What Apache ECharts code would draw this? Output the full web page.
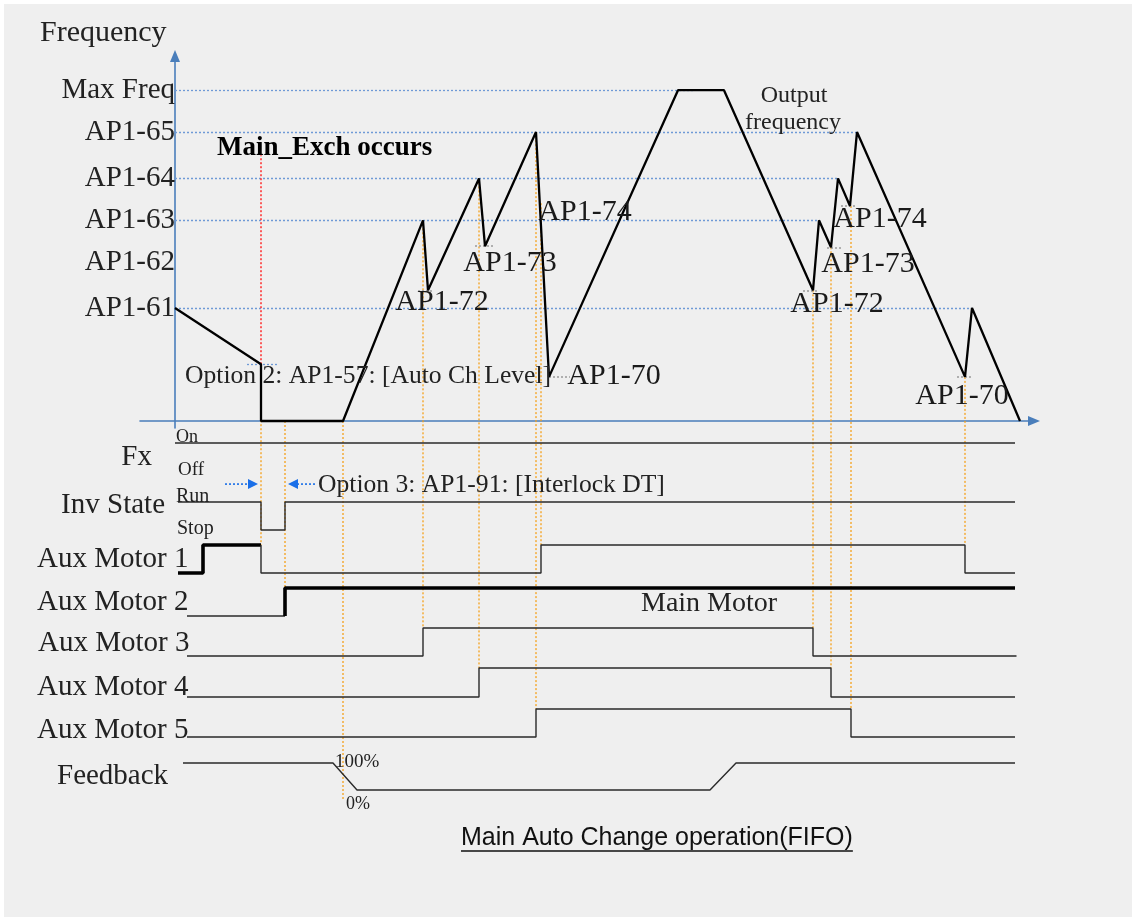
<!DOCTYPE html>
<html><head><meta charset="utf-8">
<script src="https://cdn.jsdelivr.net/npm/echarts@6/dist/echarts.min.js"></script>
<style>html,body{margin:0;padding:0;background:#fff;} #c{width:1132px;height:917px;}</style>
</head><body><div id="c"></div>
<script>
// ================= DATA =================
// Frequency axis levels (Hz-like units, Max Freq = 60)
const freqLevelNames  = ['AP1-61', 'AP1-62', 'AP1-63', 'AP1-64', 'AP1-65', 'Max Freq'];
const freqLevelValues = [20.5, 28.8, 36.4, 44.0, 52.4, 60];
// dotted reference levels and the time where each ends
const refLevelValues = [20.5, 36.4, 44.0, 52.4, 60];
const refLevelEnds   = [159.4, 128.8, 132.6, 136.4, 104];
// Output frequency trace [time, freq]
const outputFreq = [[0,20.5],[17.2,10.3],[17.2,0],[33.6,0],[49.6,36.4],[50.6,23.7],[60.8,44.0],[62,31.7],
  [72.2,52.4],[74.8,8.0],[100.6,60],[109.8,60],[127.6,23.7],[128.8,36.4],[131.2,31.5],[132.6,44.0],
  [135,39.0],[136.4,52.4],[158,8.0],[159.4,20.5],[169,0]];
// Dip / threshold labels
const dipNames  = ['AP1-72','AP1-73','AP1-74','AP1-70','AP1-72','AP1-73','AP1-74','AP1-70'];
const dipPoints = [[50.6,23.7],[62,31.7],[73,39],[74.8,8.0],[127.6,23.7],[131.2,31.5],[135,39.0],[158,8.0]];
// short grey level marks at dips [tStart, tEnd, freq]
const dipMarks = [[48.6,51.8,23.7],[60,63.6,31.7],[74.8,79,8],[125.6,128.6,23.7],[130.4,133.4,31.5],[133.2,136,39],[156.4,159.4,8]];
const autoChLevel = [14.4, 20.4, 10.3];
const mainExchTime = 17.2, mainExchTop = 48.2;
// Timing signals [time, level]
const fxSignal   = [[0,1],[168,1]];
const invState   = [[0.6,1],[17.2,1],[17.2,0],[22,0],[22,1],[168,1]];
const aux1Main   = [[0.6,0],[5.6,0],[5.6,1],[17.2,1]];
const aux1       = [[17.2,1],[17.2,0],[73.2,0],[73.2,1],[158,1],[158,0],[168,0]];
const aux2Off    = [[2.4,0],[22,0]];
const aux2Main   = [[22,0],[22,1],[168,1]];
const aux3       = [[2.4,0],[49.6,0],[49.6,1],[127.6,1],[127.6,0],[168.3,0]];
const aux4       = [[2.4,0],[60.8,0],[60.8,1],[131.2,1],[131.2,0],[168,0]];
const aux5       = [[2.4,0],[72.2,0],[72.2,1],[135.2,1],[135.2,0],[168,0]];
const feedback   = [[1.6,100],[31.6,100],[36.4,0],[107,0],[112.2,100],[168,100]];
// Event guide lines: [time, fromGrid, fromValue, toGrid, toValue]
const guides = [[17.2,0,10.3,3,1],[22,0,0,4,1],[33.6,0,0,8,-37],[49.6,0,36.4,5,1],[60.8,0,44,6,1],
  [72.2,0,52.4,7,1],[73.2,0,39.5,3,1],[127.6,0,23.7,5,1],[131.2,0,31.5,6,1],[135.2,0,39,7,1],[158,0,8,3,1]];
// Interlock arrows [tFrom, tTo]
const interlockArrows = [[10,16.6],[28,22.6]];

// ================= LAYOUT / STYLE =================
const SERIF = '"Liberation Serif", "DejaVu Serif", serif';
const TXT = '#222';
const AXIS_BLUE = '#4a7ebb';
const X_MIN = -7, X_MAX = 171.8, G_LEFT = 140, G_RIGHT = 98;
const rows = [ // grid 1..8: top, height, yMin, yMax
  {top:443, h:27, min:0, max:1},
  {top:502, h:28, min:0, max:1},
  {top:545, h:28, min:0, max:1},
  {top:588, h:28, min:0, max:1},
  {top:628, h:28, min:0, max:1},
  {top:668, h:29, min:0, max:1},
  {top:709, h:28, min:0, max:1},
  {top:763, h:27, min:0, max:100}
];
const grids = [{left:G_LEFT, right:G_RIGHT, top:56, bottom:917-428}];
const xAxes = [{gridIndex:0, type:'value', min:X_MIN, max:X_MAX,
  axisLine:{show:true, onZero:true, symbol:['none','triangle'], symbolSize:[10,12], lineStyle:{color:AXIS_BLUE, width:1.6}},
  axisTick:{show:false}, axisLabel:{show:false}, splitLine:{show:false}}];
const yAxes = [{gridIndex:0, type:'value', min:-1.27, max:66.2,
  axisLine:{show:true, onZero:true, symbol:['none','triangle'], symbolSize:[10,12], lineStyle:{color:AXIS_BLUE, width:1.6}},
  axisTick:{show:false}, splitLine:{show:false},
  axisLabel:{show:true, customValues:freqLevelValues, margin:-35, color:TXT, fontSize:29, fontFamily:SERIF,
    formatter:(v)=>{const i=freqLevelValues.indexOf(v); return i>=0?freqLevelNames[i]:'';}}}];
rows.forEach((r,i)=>{
  grids.push({left:G_LEFT, right:G_RIGHT, top:r.top, height:r.h});
  xAxes.push({gridIndex:i+1, type:'value', min:X_MIN, max:X_MAX, show:false});
  yAxes.push({gridIndex:i+1, type:'value', min:r.min, max:r.max, show:false});
});

function sig(idx, data, width, color){
  return {type:'line', xAxisIndex:idx, yAxisIndex:idx, data:data, showSymbol:false, symbol:'none', clip:false,
    silent:true, animation:false, lineStyle:{color:color||'#2a2a2a', width:width||1.4}, z:3};
}

const refLines = refLevelValues.map((v,i)=>[{coord:[0,v]},{coord:[refLevelEnds[i],v]}]);
const greyMarks = dipMarks.map(d=>[{coord:[d[0],d[2]]},{coord:[d[1],d[2]]}]);
const dipLabelOffsets = [[14,12],[25,17],[45,6],[65,-1],[24,14],[37,17],[30,13],[-3,19]];

const series = [
  {type:'line', xAxisIndex:0, yAxisIndex:0, data:outputFreq, showSymbol:false, symbol:'none', clip:false,
   animation:false, silent:true, lineStyle:{color:'#000', width:2.3}, z:5,
   markLine:{silent:true, symbol:['none','none'], label:{show:false}, animation:false,
     lineStyle:{color:'#6f9ad6', width:1.3, type:[2,2]},
     data: refLines.concat([[{coord:[autoChLevel[0],autoChLevel[2]]},{coord:[autoChLevel[1],autoChLevel[2]]}]])}},
  {type:'line', xAxisIndex:0, yAxisIndex:0, data:[], z:4,
   markLine:{silent:true, symbol:['none','none'], label:{show:false}, animation:false,
     lineStyle:{color:'#a0a0a0', width:1.6, type:[2,2]}, data: greyMarks}},
  {type:'line', xAxisIndex:0, yAxisIndex:0, data:[], z:4,
   markLine:{silent:true, symbol:['none','none'], label:{show:false}, animation:false,
     lineStyle:{color:'#ff2a2a', width:1.5, type:[2,2]},
     data:[[{coord:[mainExchTime,10.3]},{coord:[mainExchTime,mainExchTop]}]]}},
  {type:'scatter', xAxisIndex:0, yAxisIndex:0, symbolSize:0, silent:true, animation:false, z:6,
   itemStyle:{color:'#222', opacity:1},
   data: dipPoints.map((p,i)=>({value:p, name:dipNames[i], label:{offset:dipLabelOffsets[i]}})),
   label:{show:true, position:[0,0], formatter:(p)=>p.name, color:'#1a1a1a', fontSize:30, fontFamily:SERIF,
     align:'center', verticalAlign:'middle', textBorderWidth:0, opacity:1}},
  sig(1, fxSignal),
  sig(2, invState),
  sig(3, aux1Main, 3.6, '#000'),
  sig(3, aux1),
  sig(4, aux2Off),
  sig(4, aux2Main, 3.6, '#000'),
  sig(5, aux3),
  sig(6, aux4),
  sig(7, aux5),
  sig(8, feedback)
];

const staticTexts = [
  ['Frequency', 40, 33, 'left', 30],
  ['Fx', 152, 457, 'right', 29],
  ['Inv State', 165, 505, 'right', 29],
  ['Aux Motor 1', 37, 559, 'left', 29],
  ['Aux Motor 2', 37, 602, 'left', 29],
  ['Aux Motor 3', 38, 643, 'left', 29],
  ['Aux Motor 4', 37, 687, 'left', 29],
  ['Aux Motor 5', 37, 730, 'left', 29],
  ['Feedback', 57, 776, 'left', 29],
  ['On', 176, 437, 'left', 18],
  ['Off', 178, 470, 'left', 19],
  ['Run', 176, 497, 'left', 20],
  ['Stop', 177, 529, 'left', 20],
  ['100%', 335, 762, 'left', 19],
  ['0%', 346, 804, 'left', 18],
  ['Main Motor', 641, 604, 'left', 28],
  ['Option 2: AP1-57: [Auto Ch Level]', 185, 376, 'left', 25.6],
  ['Option 3: AP1-91: [Interlock DT]', 318, 485, 'left', 25.6],
  ['Output', 794, 96, 'center', 24],
  ['frequency', 793, 123, 'center', 24]
];

const graphic = [
  {type:'rect', shape:{x:0,y:0,width:1132,height:4}, style:{fill:'#fff'}, z:-1, silent:true},
  {type:'rect', shape:{x:0,y:0,width:4,height:917}, style:{fill:'#fff'}, z:-1, silent:true}
];
staticTexts.forEach(t=>graphic.push({type:'text', x:t[1], y:t[2], z:10, silent:true,
  style:{text:t[0], font:`normal ${t[4]}px ${SERIF}`, fill:TXT, align:t[3], textAlign:t[3], verticalAlign:'middle', textVerticalAlign:'middle'}}));
graphic.push({type:'text', x:217, y:148, z:10, silent:true,
  style:{text:'Main_Exch occurs', font:`bold 27px ${SERIF}`, fill:'#000', align:'left', textAlign:'left', verticalAlign:'middle', textVerticalAlign:'middle'}});
graphic.push({type:'text', x:461, y:838, z:10, silent:true,
  style:{text:'Main Auto Change operation(FIFO)', font:'normal 25px "Liberation Sans", Arial, sans-serif', fill:'#111', align:'left', textAlign:'left', verticalAlign:'middle', textVerticalAlign:'middle'}});

const chart = echarts.init(document.getElementById('c'), null, {renderer:'canvas'});
chart.setOption({
  backgroundColor:'#efefef', animation:false,
  grid:grids, xAxis:xAxes, yAxis:yAxes, series:series, graphic:graphic
});

// Title underline (measured from title width)
const extra = [];
{
  const ctx = document.createElement('canvas').getContext('2d');
  ctx.font = 'normal 25px "Liberation Sans", Arial, sans-serif';
  const w = ctx.measureText('Main Auto Change operation(FIFO)').width;
  extra.push({type:'line', z:10, silent:true, shape:{x1:461, y1:851, x2:461+w, y2:851}, style:{stroke:'#111', lineWidth:1.5}});
}
// Event guide lines through the chart scales
guides.forEach(g=>{
  const p1 = chart.convertToPixel({gridIndex:g[1]}, [g[0], g[2]]);
  const p2 = chart.convertToPixel({gridIndex:g[3]}, [g[0], g[4]]);
  extra.push({type:'line', z:1, silent:true, shape:{x1:p1[0], y1:p1[1], x2:p2[0], y2:p2[1]},
    style:{stroke:'#f5a01a', lineWidth:1.3, lineDash:[2,2]}});
});
// Interlock arrows, at level 1.64 on the Inv State row
interlockArrows.forEach(a=>{
  const p1 = chart.convertToPixel({gridIndex:2}, [a[0], 1.64]);
  const p2 = chart.convertToPixel({gridIndex:2}, [a[1], 1.64]);
  const dir = Math.sign(p2[0]-p1[0]);
  extra.push({type:'line', z:10, silent:true, shape:{x1:p1[0], y1:p1[1], x2:p2[0]-dir*9, y2:p2[1]},
    style:{stroke:'#1a6fe8', lineWidth:1.6, lineDash:[2,2]}});
  extra.push({type:'polygon', z:10, silent:true,
    shape:{points:[[p2[0],p2[1]],[p2[0]-dir*10,p2[1]-5],[p2[0]-dir*10,p2[1]+5]]}, style:{fill:'#1a6fe8'}});
});
chart.setOption({graphic: graphic.concat(extra)});
</script>
</body></html>
